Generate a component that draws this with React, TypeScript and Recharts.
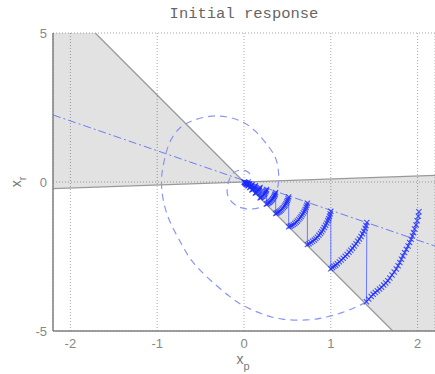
import { ComposedChart, Line, Area, XAxis, YAxis, CartesianGrid, Label } from 'recharts'

const X_TICKS = [-2, -1, 0, 1, 2]
const Y_TICKS = [-5, 0, 5]

// shaded sectors: [x, low, high]
const sectorLeft = [[-2.2, -0.22, 5], [-1.713, -0.171, 5], [0, 0, 0]]
const sectorRight = [[0, 0, 0], [1.713, -5, 0.171], [2.2, -5, 0.22]]

// sector edges and reset line: [x, y]
const edgeSteep = [[-1.713, 5], [1.713, -5]]
const edgeFlat = [[-2.2, -0.22], [2.2, 0.22]]
const resetLine = [[-2.2, 2.25], [2.2, -2.15]]

// response without reset (dashed spiral)
const freeResponse = [
  [1.41, -4.03], [1.18, -4.33], [0.95, -4.53], [0.72, -4.63], [0.44, -4.6], [0.21, -4.43],
  [0, -4.16], [-0.17, -3.83], [-0.4, -3.26], [-0.6, -2.65], [-0.72, -2.08], [-0.85, -1.35],
  [-0.93, -0.6], [-0.95, 0.1], [-0.92, 0.7], [-0.86, 1.3], [-0.75, 1.78], [-0.6, 2.05],
  [-0.4, 2.2], [-0.21, 2.19], [-0.02, 2.02], [0.14, 1.68], [0.28, 1.2], [0.37, 0.75],
  [0.4, 0.2], [0.38, -0.25], [0.3, -0.66], [0.17, -0.87], [0.02, -0.9], [-0.11, -0.75],
  [-0.19, -0.42], [-0.18, -0.02], [-0.13, 0.28], [-0.04, 0.4], [0.05, 0.33], [0.08, 0.15],
  [0.06, 0.02],
]

// reset response, one arc per reset period
const arc1 = [
  [2.015, -1.0], [2.008, -1.15], [1.995, -1.3], [1.982, -1.44], [1.965, -1.58], [1.953, -1.7],
  [1.94, -1.81], [1.925, -1.92], [1.908, -2.03], [1.89, -2.15], [1.87, -2.26], [1.85, -2.37],
  [1.83, -2.48], [1.813, -2.59], [1.795, -2.7], [1.775, -2.81], [1.754, -2.92], [1.73, -3.02],
  [1.705, -3.12], [1.68, -3.22], [1.657, -3.31], [1.633, -3.39], [1.61, -3.46], [1.585, -3.53],
  [1.561, -3.59], [1.536, -3.65], [1.512, -3.71], [1.488, -3.77], [1.465, -3.84], [1.437, -3.93],
  [1.41, -4.02],
]
const arc2 = [
  [1.415, -1.36], [1.405, -1.46], [1.395, -1.55], [1.38, -1.65], [1.365, -1.74], [1.348, -1.83],
  [1.33, -1.91], [1.31, -1.99], [1.29, -2.07], [1.27, -2.15], [1.25, -2.22], [1.23, -2.29],
  [1.21, -2.36], [1.188, -2.43], [1.165, -2.49], [1.143, -2.56], [1.12, -2.62], [1.098, -2.68],
  [1.075, -2.74], [1.055, -2.79], [1.035, -2.83], [1.018, -2.87], [1.0, -2.91],
]
const arc3 = [
  [1.0, -0.98], [0.993, -1.07], [0.985, -1.15], [0.975, -1.23], [0.965, -1.3], [0.953, -1.38],
  [0.94, -1.45], [0.925, -1.53], [0.91, -1.6], [0.895, -1.67], [0.88, -1.73], [0.863, -1.79],
  [0.845, -1.85], [0.828, -1.9], [0.81, -1.95], [0.79, -1.99], [0.77, -2.03], [0.75, -2.07],
  [0.73, -2.1],
]
const arc4 = [
  [0.73, -0.71], [0.723, -0.78], [0.715, -0.85], [0.705, -0.92], [0.695, -0.98], [0.683, -1.04],
  [0.67, -1.1], [0.658, -1.16], [0.645, -1.21], [0.63, -1.26], [0.615, -1.31], [0.6, -1.35],
  [0.585, -1.39], [0.568, -1.43], [0.55, -1.46], [0.533, -1.48], [0.515, -1.5],
]
const arc5 = [
  [0.515, -0.5], [0.508, -0.56], [0.5, -0.62], [0.493, -0.67], [0.485, -0.72], [0.475, -0.77],
  [0.465, -0.81], [0.453, -0.86], [0.44, -0.9], [0.428, -0.94], [0.415, -0.97], [0.403, -1.0],
  [0.39, -1.02], [0.378, -1.04], [0.365, -1.06],
]
const arc6 = [
  [0.365, -0.355], [0.36, -0.4], [0.355, -0.44], [0.348, -0.48], [0.34, -0.52], [0.333, -0.56],
  [0.325, -0.59], [0.315, -0.62], [0.305, -0.65], [0.295, -0.68], [0.285, -0.7], [0.273, -0.72],
  [0.26, -0.74],
]
const arc7 = [
  [0.26, -0.25], [0.255, -0.29], [0.25, -0.33], [0.243, -0.37], [0.235, -0.4], [0.228, -0.43],
  [0.22, -0.46], [0.21, -0.48], [0.2, -0.5], [0.193, -0.52], [0.185, -0.53],
]
const arc8 = [
  [0.185, -0.18], [0.18, -0.215], [0.175, -0.25], [0.168, -0.28], [0.16, -0.31], [0.153, -0.33],
  [0.145, -0.35], [0.138, -0.36], [0.13, -0.37],
]
const arc9 = [
  [0.13, -0.125], [0.126, -0.16], [0.12, -0.19], [0.113, -0.215], [0.105, -0.24], [0.098, -0.255],
  [0.092, -0.265],
]
const arcTail = [
  [0.092, -0.09], [0.086, -0.115], [0.08, -0.14], [0.073, -0.165], [0.065, -0.185],
  [0.065, -0.063], [0.06, -0.083], [0.055, -0.1], [0.05, -0.117], [0.046, -0.13],
  [0.046, -0.045], [0.04, -0.07], [0.033, -0.092], [0.033, -0.032], [0.028, -0.05],
  [0.023, -0.065], [0.02, -0.02], [0.016, -0.03], [0.012, -0.035], [0.008, -0.01], [0, 0],
]

const toXY = (pts: number[][]) => pts.map(([x, y]) => ({ x, y }))
const toBand = (pts: number[][]) => pts.map(([x, lo, hi]) => ({ x, band: [lo, hi] }))

const trajectory = toXY([
  ...arc1, ...arc2, ...arc3, ...arc4, ...arc5, ...arc6, ...arc7, ...arc8, ...arc9, ...arcTail,
])

const Cross = (p: any) => {
  const { cx, cy } = p
  if (cx == null || cy == null) return <g />
  const s = 2.6
  return (
    <path
      d={`M${cx - s},${cy - s}L${cx + s},${cy + s}M${cx - s},${cy + s}L${cx + s},${cy - s}`}
      stroke="#1a2bff"
      strokeOpacity={0.8}
      strokeWidth={1.1}
      fill="none"
    />
  )
}

const XTitle = ({ viewBox }: any) => {
  const cx = viewBox.x + viewBox.width / 2
  return (
    <text x={cx - 1} y={viewBox.y + 33} textAnchor="middle" fill="#777" fontSize={14} fontFamily="Liberation Sans, sans-serif">
      x<tspan fontSize={11} dy={6}>p</tspan>
    </text>
  )
}

const YTitle = ({ viewBox }: any) => {
  const cy = viewBox.y + viewBox.height / 2
  const x = 21
  return (
    <text x={x} y={cy} transform={`rotate(-90 ${x} ${cy})`} textAnchor="middle" fill="#777" fontSize={14} fontFamily="Liberation Sans, sans-serif">
      x<tspan fontSize={11} dy={5}>r</tspan>
    </text>
  )
}

const tickStyle = { fontSize: 13, fill: '#888', fontFamily: 'Liberation Sans, sans-serif' }

export default function App() {
  return (
    <div style={{ position: 'absolute', left: 0, top: 0, width: 435, height: 374, background: '#fff' }}>
      <div
        style={{
          position: 'absolute', left: 53, width: 382, top: 6, textAlign: 'center',
          fontFamily: 'Liberation Mono, monospace', fontSize: 15.5, color: '#666', lineHeight: '16px',
        }}
      >
        Initial response
      </div>
      <ComposedChart width={435} height={374} margin={{ top: 33, right: 0, bottom: 13, left: 13 }}>
        <XAxis
          dataKey="x"
          type="number"
          domain={[-2.2, 2.2]}
          allowDataOverflow
          ticks={X_TICKS}
          tickLine={false}
          tickSize={0}
          tickMargin={8}
          height={30}
          tick={tickStyle}
          axisLine={{ stroke: '#808080', strokeWidth: 1.5 }}
        >
          <Label content={<XTitle />} />
        </XAxis>
        <YAxis
          type="number"
          domain={[-5, 5]}
          allowDataOverflow
          ticks={Y_TICKS}
          tickLine={false}
          tickSize={0}
          tickMargin={6}
          width={40}
          tick={tickStyle}
          axisLine={{ stroke: '#808080', strokeWidth: 1.5 }}
        >
          <Label content={<YTitle />} />
        </YAxis>
        <CartesianGrid stroke="#a8a8a8" strokeDasharray="1 2" />
        <Area data={toBand(sectorLeft)} dataKey="band" type="linear" fill="#000" fillOpacity={0.115} stroke="none" isAnimationActive={false} />
        <Area data={toBand(sectorRight)} dataKey="band" type="linear" fill="#000" fillOpacity={0.115} stroke="none" isAnimationActive={false} />
        <Line data={toXY(edgeSteep)} dataKey="y" type="linear" stroke="#999" strokeWidth={1.3} dot={false} isAnimationActive={false} />
        <Line data={toXY(edgeFlat)} dataKey="y" type="linear" stroke="#999" strokeWidth={1.3} dot={false} isAnimationActive={false} />
        <Line data={toXY(resetLine)} dataKey="y" type="linear" stroke="#6d7cf2" strokeWidth={1} strokeDasharray="8 3 2 3" dot={false} isAnimationActive={false} />
        <Line data={toXY(freeResponse)} dataKey="y" type="natural" stroke="#8a95f3" strokeWidth={1.2} strokeDasharray="7 5" dot={false} isAnimationActive={false} />
        <Line data={trajectory} dataKey="y" type="linear" stroke="#6a78ff" strokeWidth={1} dot={<Cross />} activeDot={false} isAnimationActive={false} />
      </ComposedChart>
    </div>
  )
}
